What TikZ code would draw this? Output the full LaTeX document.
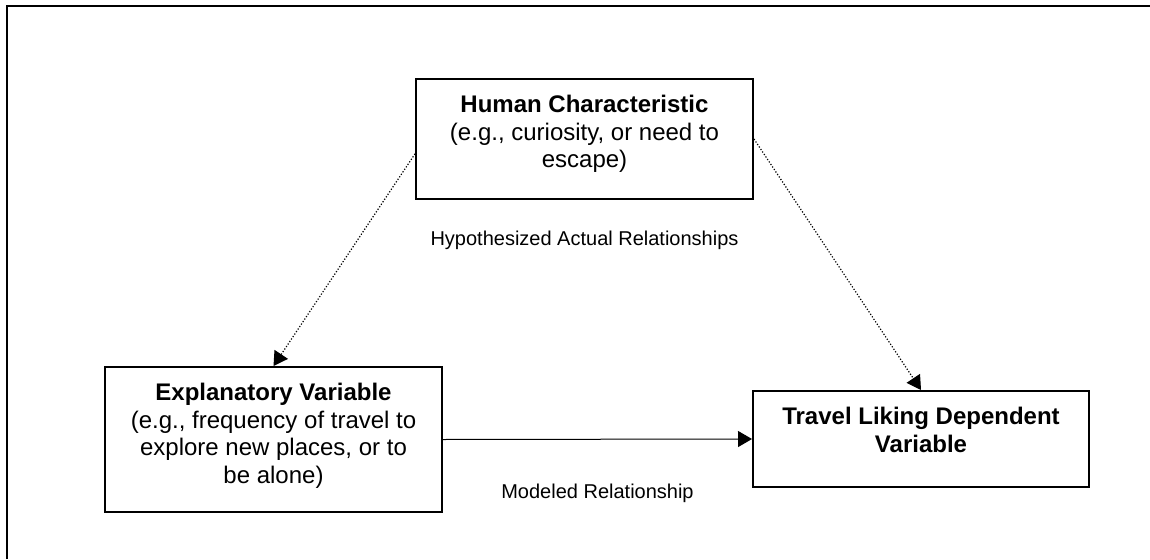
\documentclass[tikz,border=0pt]{standalone}
\usepackage{fontspec}
\setmainfont{Liberation Sans}
\usetikzlibrary{arrows.meta,positioning}

\begin{document}
\begin{tikzpicture}[x=1pt,y=-1pt,
    box/.style={draw,line width=2pt,minimum width=337pt,inner sep=0pt},
    boxtext/.style={align=center,inner sep=0pt,font=\fontsize{24}{27.6}\selectfont},
    note/.style={inner sep=0pt,font=\fontsize{20}{24}\selectfont},
    hyp/.style={line width=1.2pt,dash pattern=on 1.2pt off 1.8pt,-{Triangle[length=14pt,width=16pt]}},
    modeled/.style={line width=1pt,-{Triangle[length=14pt,width=16pt]}}]
  \useasboundingbox (0,0) rectangle (1150,559);
  % frame
  \draw[line width=2pt] (7,559) -- (7,6) -- (1150,6);

  \node[box, minimum height=120pt] (hc) at (584.5,139) {};
  \node[box, minimum height=145pt] (exp) at (273.5,439.5) {};
  \node[box, minimum width=336pt, minimum height=96pt] (tl) at (921,439) {};

  \node[boxtext, below=17pt of hc.north] (hctext)
    {\textbf{Human Characteristic}\\(e.g., curiosity, or need to\\escape)};
  \node[boxtext, below=17pt of exp.north] (exptext)
    {\textbf{Explanatory Variable}\\(e.g., frequency of travel to\\explore new places, or to\\be alone)};
  \node[boxtext, below=17pt of tl.north] (tltext)
    {\textbf{Travel Liking Dependent}\\\textbf{Variable}};

  \node[note, below=31pt of hc] (hyplabel) {Hypothesized Actual Relationships};

  \draw[hyp] (hc.185.4) -- (exp.north);
  \draw[hyp] (hc.east) -- (tl.north);
  \draw[modeled] (exp.east) -- (tl.west)
    node[note, midway, below=44pt] (mr) {Modeled Relationship};
\end{tikzpicture}
\end{document}
